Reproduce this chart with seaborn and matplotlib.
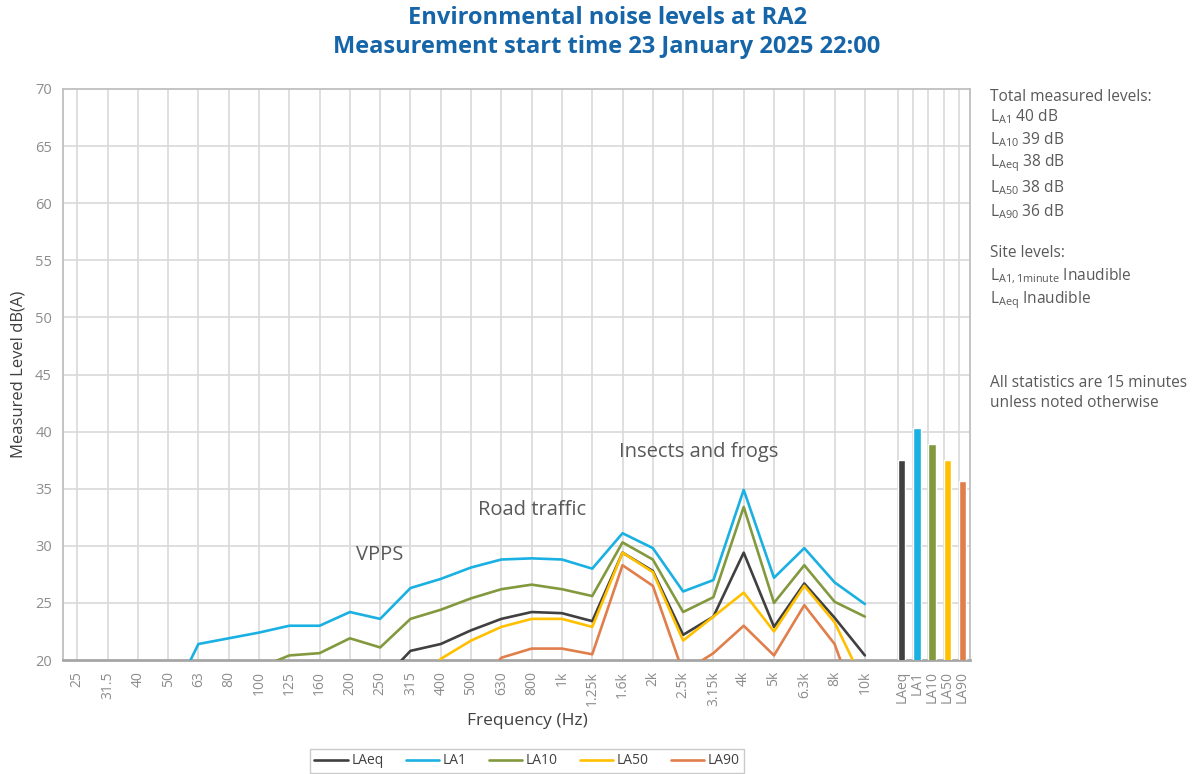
import numpy as np
import pandas as pd
import matplotlib
matplotlib.use("Agg")
import matplotlib.pyplot as plt
import seaborn as sns

# ---------------- data ----------------
freq_labels = ["25", "31.5", "40", "50", "63", "80", "100", "125", "160", "200", "250",
               "315", "400", "500", "630", "800", "1k", "1.25k", "1.6k", "2k", "2.5k",
               "3.15k", "4k", "5k", "6.3k", "8k", "10k"]
nan = np.nan
LAeq = [nan, nan, nan, nan, nan, nan, nan, nan, nan, nan, 18.0,
        20.8, 21.4, 22.6, 23.6, 24.2, 24.1, 23.4, 29.4, 27.8, 22.2,
        23.8, 29.4, 22.9, 26.7, 23.7, 20.4]
LA1 = [nan, nan, nan, 16.0, 21.4, 21.9, 22.4, 23.0, 23.0, 24.2, 23.6,
       26.3, 27.1, 28.1, 28.8, 28.9, 28.8, 28.0, 31.1, 29.8, 26.0,
       27.0, 34.9, 27.2, 29.8, 26.8, 24.9]
LA10 = [nan, nan, nan, nan, nan, nan, 19.3, 20.4, 20.6, 21.9, 21.1,
        23.6, 24.4, 25.4, 26.2, 26.6, 26.2, 25.6, 30.3, 28.8, 24.2,
        25.5, 33.4, 25.0, 28.3, 25.1, 23.8]
LA50 = [nan, nan, nan, nan, nan, nan, nan, nan, nan, nan, nan,
        17.0, 20.1, 21.7, 22.9, 23.6, 23.6, 22.9, 29.4, 27.7, 21.7,
        23.8, 25.9, 22.5, 26.5, 23.3, 17.8]
LA90 = [nan, nan, nan, nan, nan, nan, nan, nan, nan, nan, nan,
        nan, nan, 17.0, 20.2, 21.0, 21.0, 20.5, 28.3, 26.5, 18.9,
        20.6, 23.0, 20.4, 24.8, 21.4, 14.1]
series_names = ["LAeq", "LA1", "LA10", "LA50", "LA90"]
total_levels = [37.5, 40.3, 38.9, 37.5, 35.7]
series_colors = ["#404040", "#1AB0E2", "#83993E", "#FFC000", "#E07E4C"]

# ---------------- build table ----------------
rows = []
for name, vals in zip(series_names, [LAeq, LA1, LA10, LA50, LA90]):
    for i, v in enumerate(vals):
        rows.append({"pos": i, "series": name, "level": v})
df = pd.DataFrame(rows).dropna()

sns.set_theme(style="white")
plt.rcParams["font.family"] = ["Open Sans", "DejaVu Sans"]
plt.rcParams["mathtext.fontset"] = "custom"
plt.rcParams["mathtext.rm"] = "Open Sans"
plt.rcParams["mathtext.default"] = "regular"

fig = plt.figure(figsize=(11.95, 7.74), dpi=100)
ax = fig.add_axes([63 / 1195, 1 - 660 / 774, (970 - 63) / 1195, (660 - 89) / 774])

grid_c = "#D9D9D9"
tick_c = "#8C8C8C"

n = len(freq_labels)
bar_pos = [27.1 + 0.5 * k for k in range(len(series_names))]

# gridlines
for xp in list(range(n)) + bar_pos:
    ax.axvline(xp, color=grid_c, lw=1.2, zorder=0)
for yv in range(25, 70, 5):
    ax.axhline(yv, color=grid_c, lw=1.2, zorder=0)

palette = dict(zip(series_names, series_colors))
sns.lineplot(data=df, x="pos", y="level", hue="series", hue_order=series_names,
             palette=palette, linewidth=1.9, ax=ax, legend=True, sort=True,
             estimator=None, zorder=3)

ax.bar(bar_pos, total_levels, width=0.24, align="edge", color=series_colors,
       bottom=0, zorder=3)

ax.set_xlim(-0.47, 29.47)
ax.set_ylim(20, 70)
ax.set_yticks(range(20, 71, 5))
ax.set_yticks(range(20, 71, 1), minor=True)
ax.tick_params(axis="y", which="major", length=0, labelsize=10.5, labelcolor=tick_c, pad=8)
ax.tick_params(axis="y", which="minor", length=3, direction="in", color="#BFBFBF", width=1)
ax.set_xticks(list(range(n)) + [b + 0.12 for b in bar_pos])
ax.set_xticklabels(freq_labels + series_names, rotation=90)
ax.tick_params(axis="x", length=0, labelsize=10, labelcolor=tick_c, pad=8)
for s in ax.spines.values():
    s.set_color("#BFBFBF")
    s.set_linewidth(1.3)
ax.spines["bottom"].set_color("#A6A6A6")
ax.spines["bottom"].set_linewidth(2)

ax.set_xlabel("Frequency (Hz)", fontsize=12.5, color="#404040")
ax.xaxis.set_label_coords((527 - 63) / (970 - 63), -(721 - 660) / (660 - 89))
ax.xaxis.label.set_va("center")
ax.set_ylabel("Measured Level dB(A)", fontsize=12, color="#404040", labelpad=6)

# annotations
ann_c = "#595959"
ax.text(10, 29.2, "VPPS", fontsize=14.5, color=ann_c, ha="center", va="center")
ax.text(15, 33.1, "Road traffic", fontsize=14.5, color=ann_c, ha="center", va="center")
ax.text(20.5, 38.2, "Insects and frogs", fontsize=14.5, color=ann_c, ha="center", va="center")

# legend
handles, labels = ax.get_legend_handles_labels()
ax.legend_.remove()
leg = fig.legend(handles, labels, loc="center", bbox_to_anchor=(527 / 1195, 1 - 761 / 774),
                 ncol=5, frameon=True, fontsize=10, handlelength=2.4, columnspacing=1.6,
                 handletextpad=0.25, fancybox=False, borderpad=0.35)
leg.get_frame().set_edgecolor("#BFBFBF")
for t in leg.get_texts():
    t.set_color("#404040")

# title
title_c = "#1565A8"
fig.text(607 / 1195, 1 - 18 / 774, "Environmental noise levels at RA2", ha="center", va="center",
         fontsize=17, fontweight="bold", color=title_c)
fig.text(607 / 1195, 1 - 47 / 774, "Measurement start time 23 January 2025 22:00", ha="center",
         va="center", fontsize=17, fontweight="bold", color=title_c)

# side text
side_c = "#595959"
sx = 990 / 1195
side_items = [
    (97, "Total measured levels:"),
    (117, r"L$_{A1}$ 40 dB"),
    (140, r"L$_{A10}$ 39 dB"),
    (163, r"L$_{Aeq}$ 38 dB"),
    (188, r"L$_{A50}$ 38 dB"),
    (212, r"L$_{A90}$ 36 dB"),
    (253, "Site levels:"),
    (276, r"L$_{A1, 1minute}$ Inaudible"),
    (300, r"L$_{Aeq}$ Inaudible"),
    (383, "All statistics are 15 minutes"),
    (403, "unless noted otherwise"),
]
for y, s in side_items:
    fig.text(sx, 1 - y / 774, s, ha="left", va="center", fontsize=11.2, color=side_c)

fig.savefig("out.png", dpi=100)
